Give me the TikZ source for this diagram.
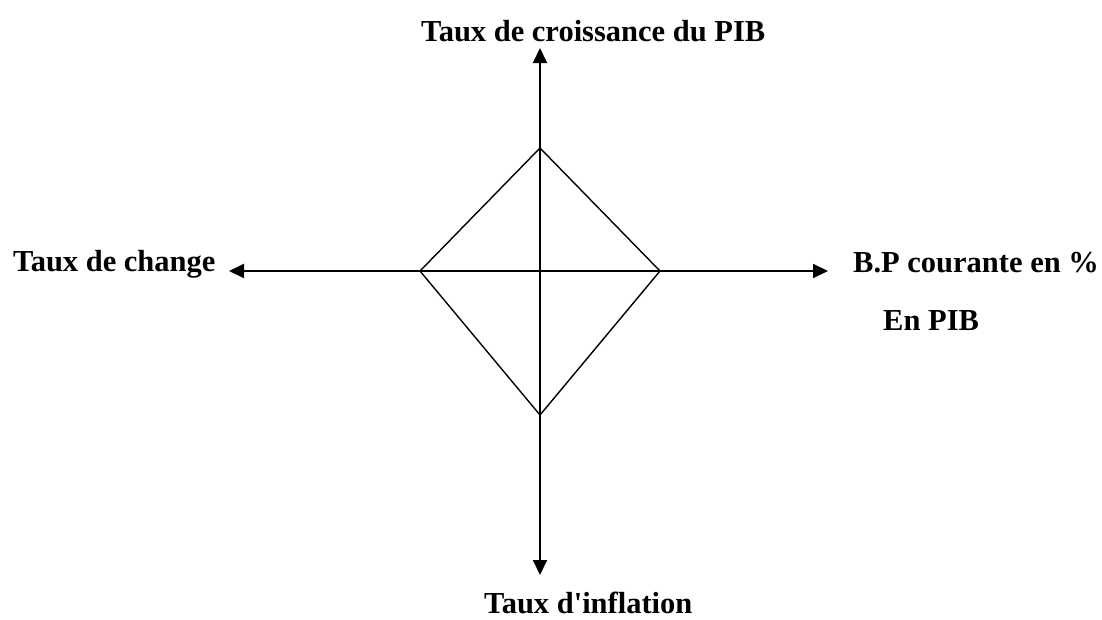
\documentclass[tikz,border=0pt]{standalone}
\usepackage{fontspec}
\setmainfont{Liberation Serif}
\usetikzlibrary{arrows.meta}
\tikzset{
    axis/.style={
        {Triangle[length=15pt,width=14pt]}-{Triangle[length=15pt,width=14pt]},
        line width=1.9pt
    },
    rhombus/.style={
        line width=1.4pt,
        line join=miter
    },
    axlabel/.style={
        font=\fontsize{30.5}{36}\selectfont\bfseries,
        inner sep=0pt
    }
}

\begin{document}
\begin{tikzpicture}[x=1pt, y=-1pt]
    \useasboundingbox (0,0) rectangle (1102,619);

    % axes ends
    \coordinate (ytop) at (540,48);
    \coordinate (ybot) at (540,575);
    \coordinate (xleft) at (229,271);
    \coordinate (xright) at (828,271);

    % diamond vertices
    \coordinate (dtop) at (540,148);
    \coordinate (dright) at (660,271);
    \coordinate (dbot) at (540,415);
    \coordinate (dleft) at (420,271);

    \draw[axis] (ybot) -- (ytop);
    \draw[axis] (xleft) -- (xright);
    \draw[rhombus] (dtop) -- (dright) -- (dbot) -- (dleft) -- cycle;

    % labels
    \node[axlabel, anchor=base west] (pib) at (421,41) {Taux de croissance du PIB};
    \node[axlabel, anchor=base west] (change) at (13,271) {Taux de change};
    \node[axlabel, anchor=base west] (bp) at (853,272) {B.P courante en \%};
    \node[axlabel, anchor=base west] (enpib) at (883,330) {En PIB};
    \node[axlabel, anchor=base west] (inflation) at (484,613) {Taux d\textquotesingle inflation};
\end{tikzpicture}
\end{document}
